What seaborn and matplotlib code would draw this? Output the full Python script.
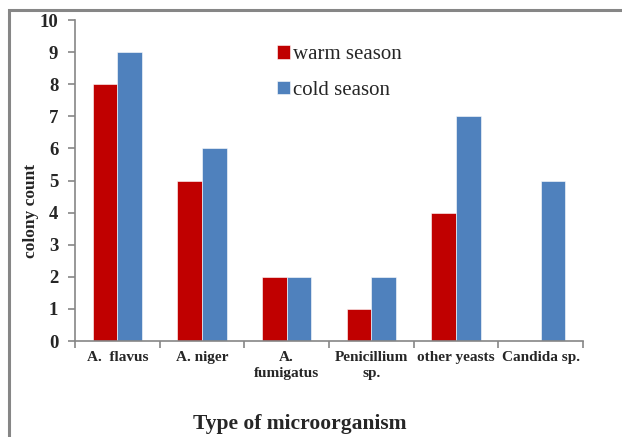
import matplotlib
matplotlib.use("Agg")
import matplotlib.pyplot as plt
import seaborn as sns
import pandas as pd
from matplotlib.patches import Rectangle

categories = ["A.  flavus", "A. niger", "A.\nfumigatus", "Penicillium\nsp.", "other yeasts", "Candida sp."]
warm_season = [8, 5, 2, 1, 4, 0]
cold_season = [9, 6, 2, 2, 7, 5]
y_ticks = list(range(0, 11))

df = pd.DataFrame({
    "category": categories * 2,
    "count": warm_season + cold_season,
    "season": ["warm season"] * len(categories) + ["cold season"] * len(categories),
})

sns.set_theme(style="white")
plt.rcParams["font.family"] = ["Liberation Serif", "DejaVu Serif"]

fig = plt.figure(figsize=(6.22, 4.37), dpi=100)
ax = fig.add_axes([75 / 622, 1 - 341 / 437, (583 - 75) / 622, (341 - 20) / 437])

palette = {"warm season": "#C00000", "cold season": "#4F81BD"}
sns.barplot(data=df, x="category", y="count", hue="season", palette=palette,
            width=0.58, ax=ax, saturation=1, edgecolor="white", linewidth=0.4)

ax.set_ylim(0, 10)
ax.set_xlim(-0.5, len(categories) - 0.5)
ax.set_yticks(y_ticks)
ax.set_yticklabels([str(t) for t in y_ticks], fontsize=13.5, fontweight="bold")
ax.set_xticks([i - 0.5 for i in range(len(categories) + 1)], minor=False)
ax.set_xticklabels([])
for i, c in enumerate(categories):
    ax.text(i, -0.3, c, ha="center", va="top", fontsize=11, fontweight="bold",
            linespacing=1.3, transform=ax.transData)

for s in ["top", "right"]:
    ax.spines[s].set_visible(False)
for s in ["left", "bottom"]:
    ax.spines[s].set_color("#868686")
    ax.spines[s].set_linewidth(1.2)
ax.tick_params(axis="y", which="major", direction="out", length=5, color="#868686", width=1.2, left=True, pad=7)
ax.tick_params(axis="x", which="major", direction="out", length=5, color="#868686", width=1.2, bottom=True)

ax.set_xlabel("")
ax.set_ylabel("")
fig.text(31 / 622, 1 - 211 / 437, "colony count", ha="center", va="center", rotation=90,
         fontsize=12.5, fontweight="bold")
fig.text(300 / 622, 1 - 424 / 437, "Type of microorganism", ha="center", va="center",
         fontsize=15.5, fontweight="bold")

leg = ax.legend(loc="upper left", bbox_to_anchor=(0.36, 0.98), frameon=False, fontsize=15,
                handlelength=0.62, handleheight=0.62, handletextpad=0.15, labelspacing=0.8)

fig.patches.append(Rectangle((9 / 622, -0.1), 1.2, 1 - 10 / 437 + 0.1, transform=fig.transFigure,
                             fill=False, edgecolor="#868686", linewidth=2.2, zorder=-1))

fig.savefig("out.png", dpi=100)
